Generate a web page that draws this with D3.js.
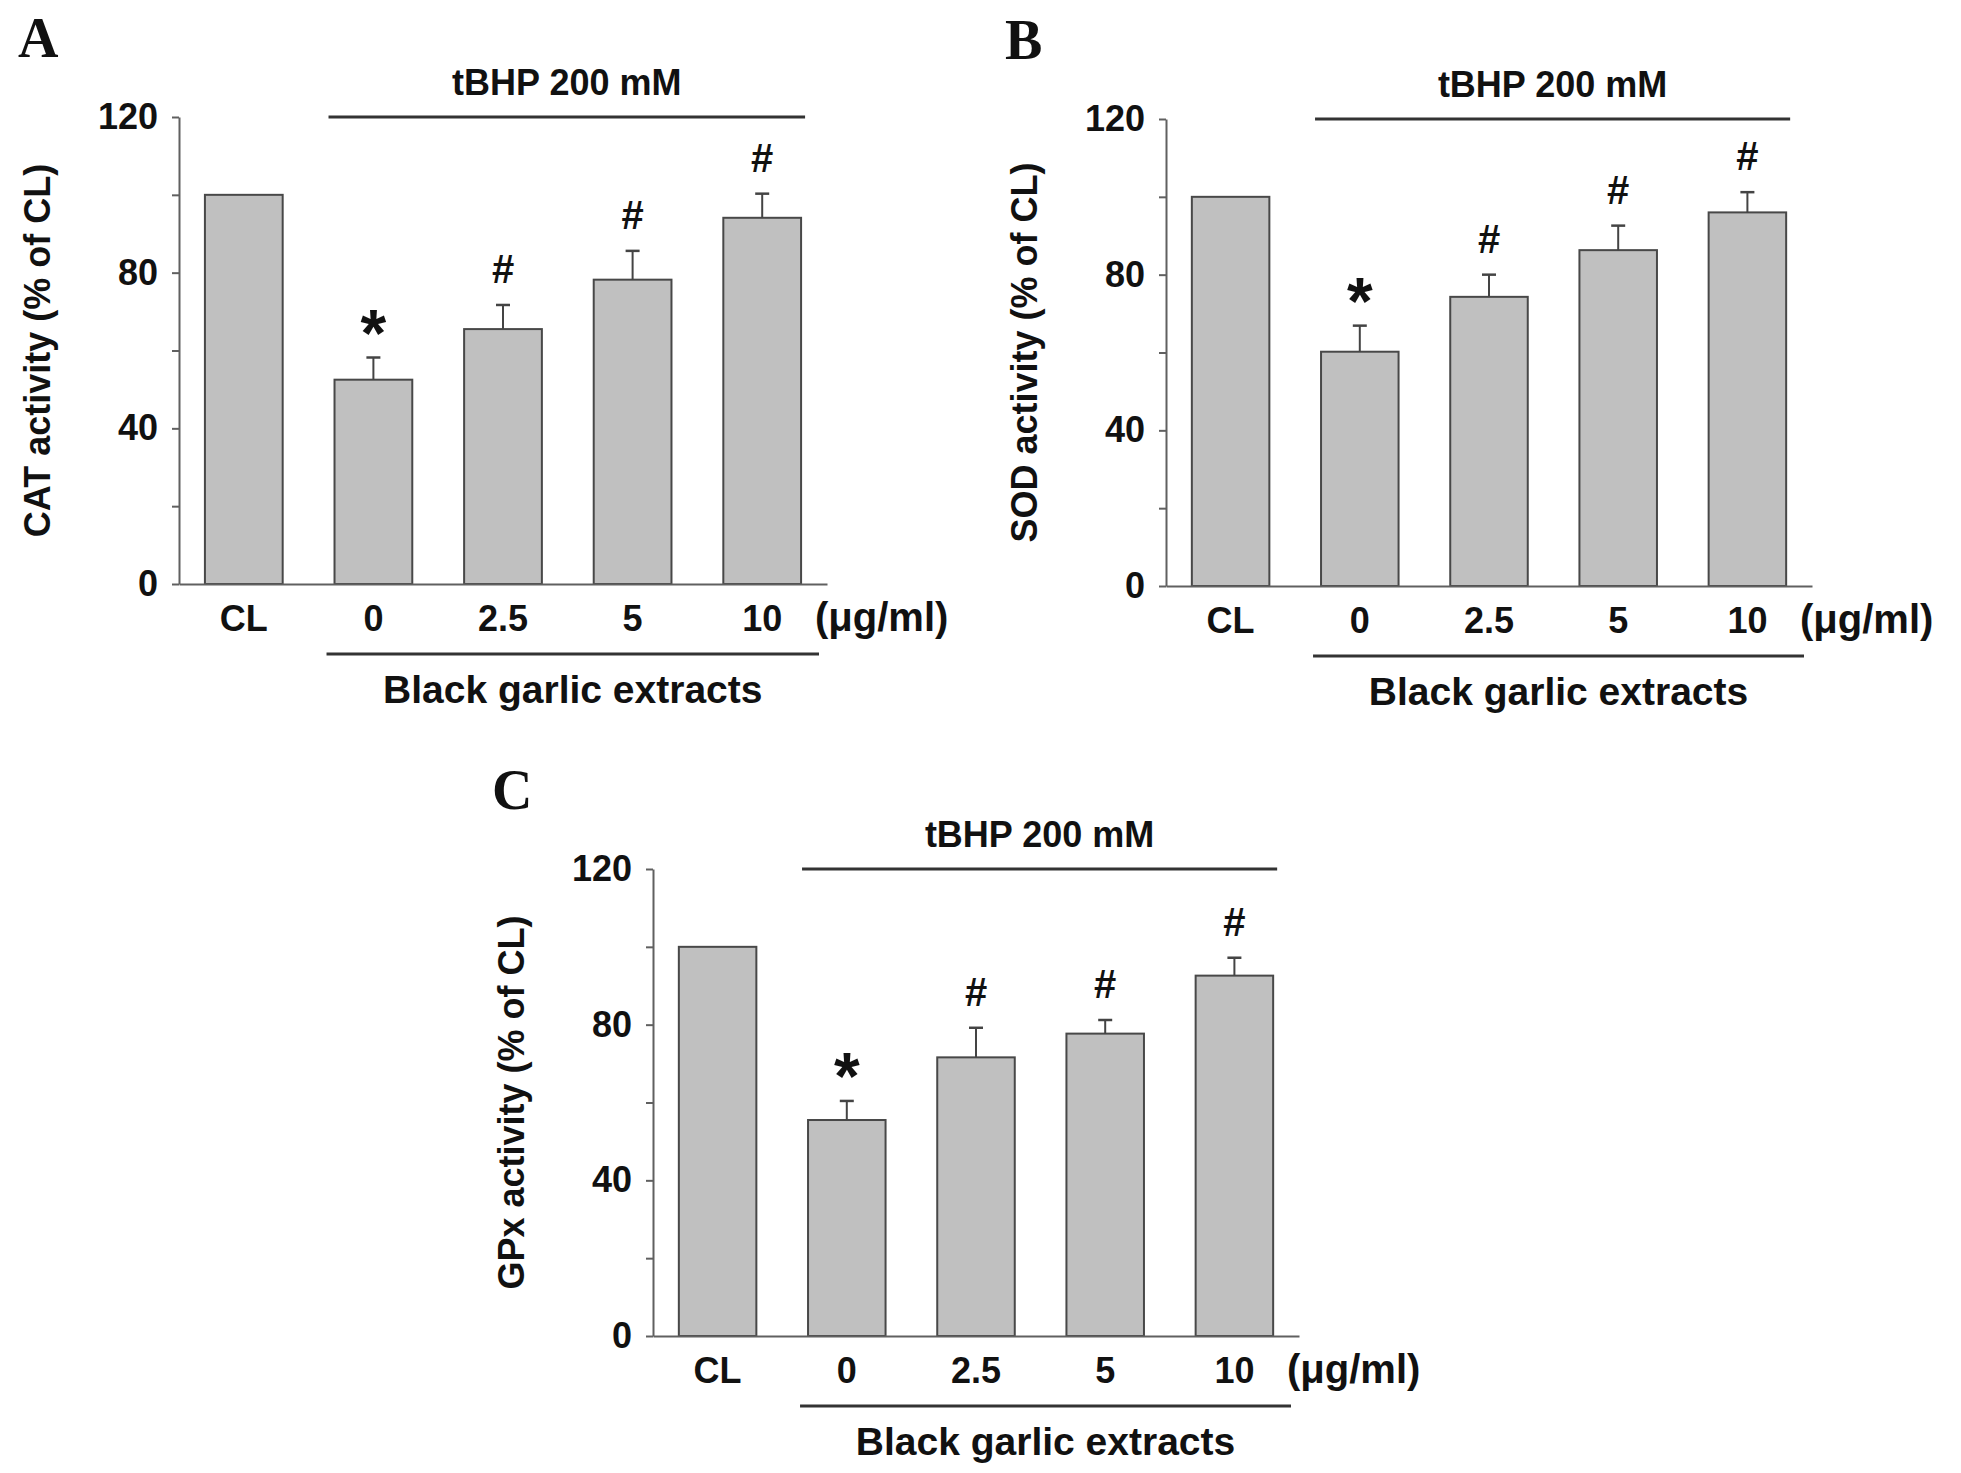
<!DOCTYPE html>
<html lang="en">
<head>
    <meta charset="UTF-8">
    <title>Black garlic extracts - antioxidant enzyme activity</title>
    <script src="https://d3js.org/d3.v7.min.js"></script>
    <style>
        body, html {
            margin: 0;
            padding: 0;
            background: #fff;
        }
        svg {
            display: block;
        }
        .tick-label, .axis-title, .group-label {
            font-family: "Liberation Sans", Arial, sans-serif;
            font-weight: bold;
            fill: #111;
        }
        .panel-letter {
            font-family: "Liberation Serif", "Times New Roman", serif;
            font-weight: bold;
            fill: #111;
        }
    </style>
</head>
<body>
<svg id="chart"></svg>
<script>
    // values (% of control)
    const categories = ["CL", "0", "2.5", "5", "10"];
    const catMeans = [100, 52.5, 65.5, 78.2, 94.1];
    const catErrors = [0, 5.7, 6.2, 7.4, 6.2];
    const sodMeans = [100, 60.2, 74.3, 86.3, 96.0];
    const sodErrors = [0, 6.7, 5.7, 6.3, 5.2];
    const gpxMeans = [100, 55.5, 71.6, 77.7, 92.6];
    const gpxErrors = [0, 4.9, 7.6, 3.5, 4.6];
    const marks = ["", "*", "#", "#", "#"];
    const yTicks = [0, 20, 40, 60, 80, 100, 120];
    const yTickLabels = [0, 40, 80, 120];
    const treatmentLabel = "tBHP 200 mM";
    const groupLabel = "Black garlic extracts";
    const unitLabel = "(\u03bcg/ml)";

    const width = 1961, height = 1473;
    const svg = d3.select("#chart")
        .attr("width", width)
        .attr("height", height);

    const panels = [
        {letter: "A", title: "CAT activity (% of CL)", means: catMeans, errors: catErrors,
         left: 179, right: 827, top: 117, bottom: 584},
        {letter: "B", title: "SOD activity (% of CL)", means: sodMeans, errors: sodErrors,
         left: 1166, right: 1812, top: 119, bottom: 586},
        {letter: "C", title: "GPx activity (% of CL)", means: gpxMeans, errors: gpxErrors,
         left: 653, right: 1299, top: 869, bottom: 1336}
    ];

    panels.forEach(drawPanel);

    function drawPanel(p) {
        const g = svg.append("g");
        const rows = categories.map((c, i) => ({cat: c, mean: p.means[i], err: p.errors[i], mark: marks[i]}));

        const x = d3.scaleBand()
            .domain(categories)
            .range([p.left, p.right])
            .paddingInner(0.4)
            .paddingOuter(0.2);
        const y = d3.scaleLinear()
            .domain([0, 120])
            .range([p.bottom, p.top]);

        // bars
        g.selectAll(".bar")
            .data(rows)
            .enter().append("rect")
            .attr("class", "bar")
            .attr("x", d => x(d.cat))
            .attr("y", d => y(d.mean))
            .attr("width", x.bandwidth())
            .attr("height", d => y(0) - y(d.mean))
            .attr("fill", "#c0c0c0")
            .attr("stroke", "#484848")
            .attr("stroke-width", 2);

        // error bars (upper only)
        const withErr = rows.filter(d => d.err > 0);
        const cx = d => x(d.cat) + x.bandwidth() / 2;
        g.selectAll(".err")
            .data(withErr)
            .enter().append("line")
            .attr("x1", cx).attr("x2", cx)
            .attr("y1", d => y(d.mean))
            .attr("y2", d => y(d.mean + d.err))
            .attr("stroke", "#444").attr("stroke-width", 2);
        g.selectAll(".cap")
            .data(withErr)
            .enter().append("line")
            .attr("x1", d => cx(d) - 7).attr("x2", d => cx(d) + 7)
            .attr("y1", d => y(d.mean + d.err))
            .attr("y2", d => y(d.mean + d.err))
            .attr("stroke", "#444").attr("stroke-width", 2.5);

        // significance marks
        g.selectAll(".mark")
            .data(rows.filter(d => d.mark))
            .enter().append("text")
            .attr("x", cx)
            .attr("y", d => y(d.mean + d.err) - (d.mark === "*" ? 2 : 22))
            .attr("text-anchor", "middle")
            .style("font-family", "'Liberation Sans', Arial, sans-serif")
            .style("font-weight", "bold")
            .style("font-size", d => d.mark === "*" ? "66px" : "40px")
            .style("fill", "#111")
            .text(d => d.mark);

        // y axis
        const yAxis = g.append("g")
            .attr("transform", `translate(${p.left},0)`)
            .call(d3.axisLeft(y)
                .tickValues(yTicks)
                .tickSize(7)
                .tickSizeOuter(0)
                .tickPadding(14)
                .tickFormat(d => yTickLabels.includes(d) ? d : ""));
        yAxis.select(".domain").attr("stroke", "#606060").attr("stroke-width", 2);
        yAxis.selectAll(".tick line").attr("stroke", "#606060").attr("stroke-width", 2);
        yAxis.selectAll(".tick text")
            .attr("class", "tick-label")
            .attr("fill", null)
            .style("font-size", "36px");
        yAxis.attr("font-family", null).attr("font-size", null);

        // x axis
        const xAxis = g.append("g")
            .attr("transform", `translate(0,${p.bottom})`)
            .call(d3.axisBottom(x).tickSize(0).tickSizeOuter(0).tickPadding(21));
        xAxis.select(".domain").attr("stroke", "#606060").attr("stroke-width", 2);
        xAxis.selectAll(".tick text")
            .attr("class", "tick-label")
            .attr("fill", null)
            .style("font-size", "36px");
        xAxis.attr("font-family", null).attr("font-size", null);

        g.append("text")
            .attr("class", "tick-label")
            .attr("x", p.right - 12)
            .attr("y", p.bottom + 47)
            .style("font-size", "40px")
            .text(unitLabel);

        // treatment bracket above
        const x1 = x(categories[1]) - 6;
        const x2 = x(categories[categories.length - 1]) + x.bandwidth() + 4;
        g.append("line")
            .attr("x1", x1).attr("x2", x2)
            .attr("y1", p.top).attr("y2", p.top)
            .attr("stroke", "#333").attr("stroke-width", 3);
        g.append("text")
            .attr("class", "group-label")
            .attr("x", (x1 + x2) / 2)
            .attr("y", p.top - 22)
            .attr("text-anchor", "middle")
            .style("font-size", "36px")
            .text(treatmentLabel);

        // extracts bracket below
        const b1 = x(categories[1]) - 8;
        const b2 = p.right - 8;
        g.append("line")
            .attr("x1", b1).attr("x2", b2)
            .attr("y1", p.bottom + 70).attr("y2", p.bottom + 70)
            .attr("stroke", "#333").attr("stroke-width", 3);
        g.append("text")
            .attr("class", "group-label")
            .attr("x", (b1 + b2) / 2)
            .attr("y", p.bottom + 119)
            .attr("text-anchor", "middle")
            .style("font-size", "39px")
            .text(groupLabel);

        // y axis title
        g.append("text")
            .attr("class", "axis-title")
            .attr("transform", `translate(${p.left - 129},${(p.top + p.bottom) / 2}) rotate(-90)`)
            .attr("text-anchor", "middle")
            .style("font-size", "36px")
            .text(p.title);

        // panel letter
        g.append("text")
            .attr("class", "panel-letter")
            .attr("x", p.left - 161)
            .attr("y", p.top - 60)
            .style("font-size", "56px")
            .text(p.letter);
    }
</script>
</body>
</html>
